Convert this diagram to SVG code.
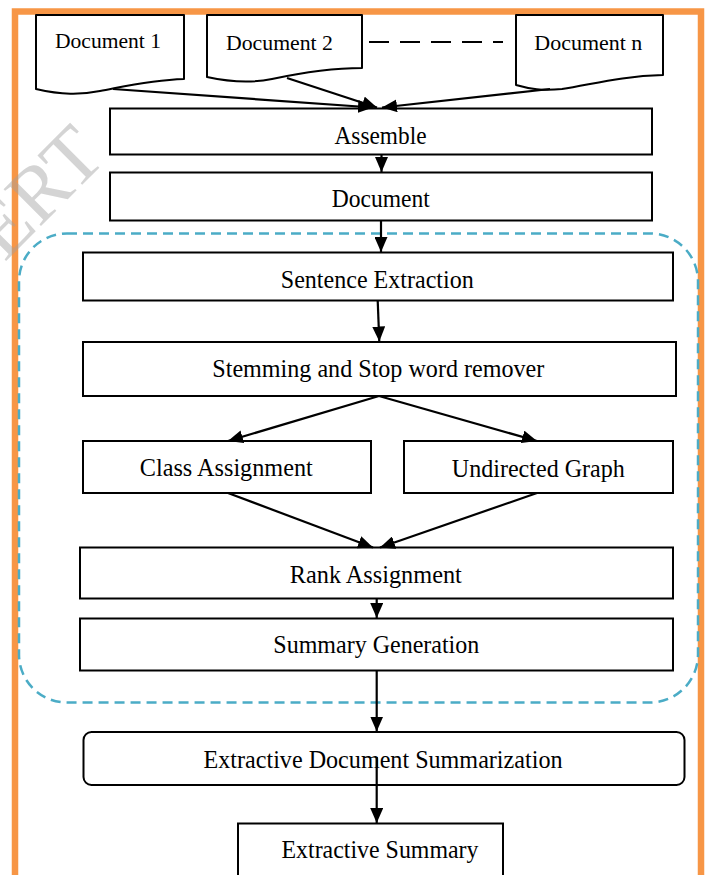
<svg xmlns="http://www.w3.org/2000/svg" width="710" height="875" viewBox="0 0 710 875">
  <style>
    .box { fill: #ffffff; stroke: #000000; stroke-width: 2; }
    .doc { fill: #ffffff; stroke: #000000; stroke-width: 2; stroke-linejoin: round; }
    .lbl { font-family: "Liberation Serif", "Times New Roman", serif; font-size: 25px; fill: #000000; text-anchor: middle; }
    .dlbl { font-family: "Liberation Serif", "Times New Roman", serif; font-size: 21px; fill: #000000; text-anchor: middle; }
    .edge { stroke: #000000; stroke-width: 2.2; fill: none; marker-end: url(#arrow); }
    .frame { fill: none; stroke: #F79646; stroke-width: 6.5; }
    .group { fill: none; stroke: #4BACC6; stroke-width: 2.5; stroke-dasharray: 10 6; }
    .mark { font-family: "Liberation Serif", "Times New Roman", serif; font-size: 80px; fill: #a0a0a0; fill-opacity: 0.45; }
  </style>
  <defs>
    <marker id="arrow" markerUnits="userSpaceOnUse" markerWidth="16" markerHeight="13" refX="15" refY="6.5" orient="auto">
      <path d="M0,0 L15,6.5 L0,13 Z" fill="#000000"/>
    </marker>
  </defs>

  <rect width="710" height="875" fill="#ffffff"/>

  <!-- outer page frame -->
  <rect class="frame" x="15" y="11.5" width="686" height="900"/>

  <!-- processing stage boundary -->
  <rect class="group" x="19" y="233.5" width="679" height="469" rx="48" ry="48"/>

  <!-- input documents -->
  <g id="doc1">
    <path class="doc" d="M36,15 H184 V79 C150,80 122,87 100,91 C80,95 62,95 36,89 Z"/>
    <text class="dlbl" x="108" y="48" textLength="106" lengthAdjust="spacingAndGlyphs">Document 1</text>
  </g>
  <g id="doc2">
    <path class="doc" d="M207,15 H362 V68 C330,68 300,73 272,79 C252,83 230,82 207,77 Z"/>
    <text class="dlbl" x="279.5" y="50" textLength="107" lengthAdjust="spacingAndGlyphs">Document 2</text>
  </g>
  <g id="docn">
    <path class="doc" d="M516,15 H663 V75 C620,76 590,85 562,89 C542,91 530,89 516,85 Z"/>
    <text class="dlbl" x="588.3" y="50" textLength="108" lengthAdjust="spacingAndGlyphs">Document n</text>
  </g>
  <g id="ellipsis">
    <line x1="369" y1="42" x2="503" y2="42" stroke="#000000" stroke-width="2" stroke-dasharray="20 11"/>
  </g>

  <!-- process steps -->
  <g id="assemble">
    <rect class="box" x="110" y="108.5" width="542" height="46"/>
    <text class="lbl" x="380.5" y="144" textLength="92" lengthAdjust="spacingAndGlyphs">Assemble</text>
  </g>
  <g id="document">
    <rect class="box" x="110" y="172.5" width="542" height="48"/>
    <text class="lbl" x="380.8" y="206.5" textLength="98" lengthAdjust="spacingAndGlyphs">Document</text>
  </g>
  <g id="sentence-extraction">
    <rect class="box" x="83" y="252.5" width="590" height="48"/>
    <text class="lbl" x="377.3" y="288" textLength="193" lengthAdjust="spacingAndGlyphs">Sentence Extraction</text>
  </g>
  <g id="stemming">
    <rect class="box" x="83" y="342" width="593" height="54"/>
    <text class="lbl" x="378.3" y="377" textLength="332" lengthAdjust="spacingAndGlyphs">Stemming and Stop word remover</text>
  </g>
  <g id="class-assignment">
    <rect class="box" x="83" y="441" width="288" height="52"/>
    <text class="lbl" x="226.3" y="476" textLength="173" lengthAdjust="spacingAndGlyphs">Class Assignment</text>
  </g>
  <g id="undirected-graph">
    <rect class="box" x="404" y="441" width="269" height="52"/>
    <text class="lbl" x="538.3" y="476.5" textLength="173" lengthAdjust="spacingAndGlyphs">Undirected Graph</text>
  </g>
  <g id="rank-assignment">
    <rect class="box" x="80" y="547.5" width="593" height="51"/>
    <text class="lbl" x="375.8" y="582.5" textLength="172" lengthAdjust="spacingAndGlyphs">Rank Assignment</text>
  </g>
  <g id="summary-generation">
    <rect class="box" x="80" y="618.5" width="593" height="52"/>
    <text class="lbl" x="376.3" y="653" textLength="206" lengthAdjust="spacingAndGlyphs">Summary Generation</text>
  </g>
  <g id="extractive-document-summarization">
    <rect class="box" x="83.5" y="732" width="601" height="53" rx="8" ry="8"/>
    <text class="lbl" x="383" y="767.5" textLength="359" lengthAdjust="spacingAndGlyphs">Extractive Document Summarization</text>
  </g>
  <g id="extractive-summary">
    <rect class="box" x="238" y="823.5" width="265" height="70"/>
    <text class="lbl" x="380" y="858" textLength="197" lengthAdjust="spacingAndGlyphs">Extractive Summary</text>
  </g>

  <!-- connectors -->
  <g id="connectors">
    <line class="edge" x1="113" y1="89" x2="373" y2="107.5"/>
    <line class="edge" x1="287" y1="78" x2="377" y2="107.5"/>
    <line class="edge" x1="550" y1="89" x2="382" y2="107.5"/>
    <line class="edge" x1="381.5" y1="154.5" x2="381.5" y2="172"/>
    <line class="edge" x1="381" y1="220.5" x2="381" y2="252"/>
    <line class="edge" x1="377.7" y1="300.5" x2="379.3" y2="341.5"/>
    <line class="edge" x1="379" y1="396" x2="228" y2="441"/>
    <line class="edge" x1="379" y1="396" x2="537" y2="441"/>
    <line class="edge" x1="228" y1="493" x2="373" y2="547.5"/>
    <line class="edge" x1="537" y1="493" x2="380" y2="547.5"/>
    <line class="edge" x1="376.7" y1="598.5" x2="376.7" y2="618"/>
    <line class="edge" x1="376.7" y1="670.5" x2="376.7" y2="731.5"/>
    <line class="edge" x1="376.7" y1="757" x2="376.7" y2="823"/>
  </g>

  <!-- faint publisher stamp at the upper left -->
  <text class="mark" x="108" y="159" text-anchor="end" transform="rotate(-45 108 159)">IJERT</text>
</svg>
